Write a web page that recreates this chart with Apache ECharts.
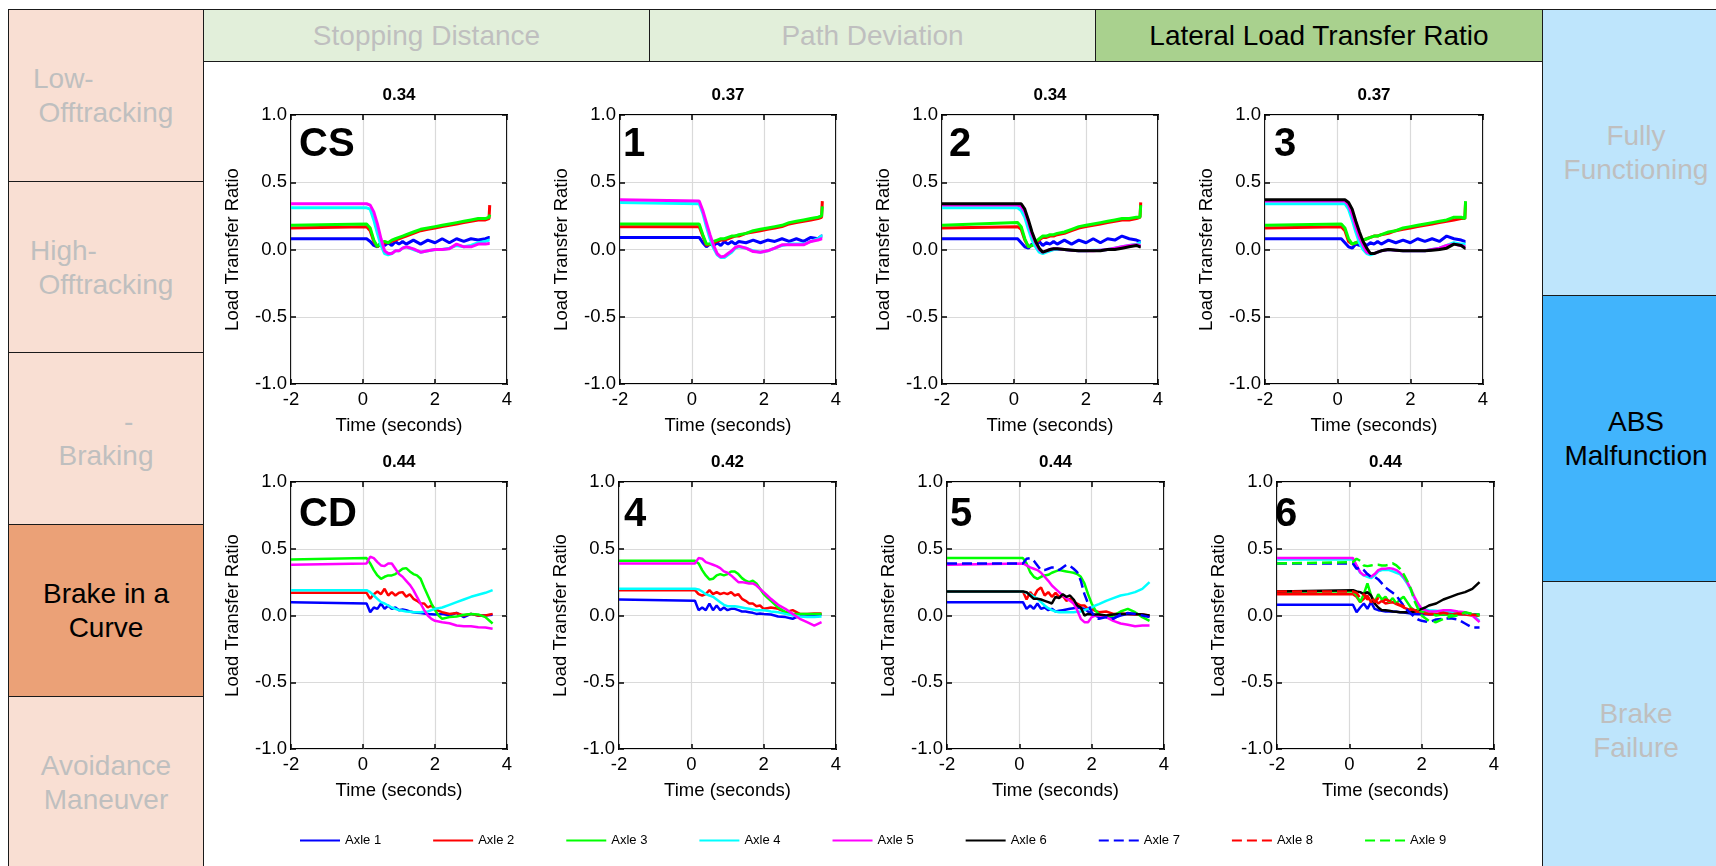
<!DOCTYPE html>
<html>
<head>
<meta charset="utf-8">
<script src="https://cdn.jsdelivr.net/npm/echarts@6/dist/echarts.min.js"></script>
<style>
  html, body { margin: 0; padding: 0; width: 1716px; height: 866px; overflow: hidden; background: #fff; font-family: "Liberation Sans", Arial, sans-serif; }
  .cell { position: absolute; box-sizing: border-box; border: 1.5px solid #1a1a1a; display: flex; flex-direction: column; justify-content: center; font-size: 28px; line-height: 34px; color: #BFBFBF; overflow: hidden; }
  .cell div { text-align: center; white-space: nowrap; }
  .cell.on { color: #000; }
  #chart { position: absolute; left: 0; top: 0; width: 1716px; height: 866px; }
</style>
</head>
<body>
<!-- left: maneuvers -->
<div class="cell" style="left:8px;top:9px;width:196px;height:173px;background:#F9DFD3"><div style="text-align:left;padding-left:24px">Low-</div><div>Offtracking</div></div>
<div class="cell" style="left:8px;top:181px;width:196px;height:173px;background:#F9DFD3"><div style="text-align:left;padding-left:21px">High-</div><div>Offtracking</div></div>
<div class="cell" style="left:8px;top:352px;width:196px;height:173px;background:#F9DFD3"><div style="text-align:left;padding-left:115px">-</div><div>Braking</div></div>
<div class="cell on" style="left:8px;top:524px;width:196px;height:173px;background:#EBA177"><div>Brake in a</div><div>Curve</div></div>
<div class="cell" style="left:8px;top:696px;width:196px;height:173px;background:#F9DFD3"><div>Avoidance</div><div>Maneuver</div></div>
<!-- top: measures -->
<div class="cell" style="left:203px;top:9px;width:447px;height:53px;background:#E2EFDA"><div>Stopping Distance</div></div>
<div class="cell" style="left:649px;top:9px;width:447px;height:53px;background:#E2EFDA"><div>Path Deviation</div></div>
<div class="cell on" style="left:1095px;top:9px;width:448px;height:53px;background:#A9D18E"><div>Lateral Load Transfer Ratio</div></div>
<!-- right: brake condition -->
<div class="cell" style="left:1542px;top:9px;width:188px;height:287px;background:#BEE5FC"><div>Fully</div><div>Functioning</div></div>
<div class="cell on" style="left:1542px;top:295px;width:188px;height:287px;background:#41B4FC"><div>ABS</div><div>Malfunction</div></div>
<div class="cell" style="left:1542px;top:581px;width:188px;height:300px;background:#BEE5FC"><div>Brake</div><div>Failure</div></div>

<div id="chart"></div>
<script>
// time samples (seconds)
const tRow1 = [-2, 0.1, 0.2, 0.3, 0.4, 0.5, 0.6, 0.7, 0.8, 0.9, 1.0, 1.1, 1.2, 1.4, 1.6, 1.8, 2.0, 2.2, 2.4, 2.6, 2.8, 3.0, 3.2, 3.4, 3.5, 3.52]
const t1 = [-2, 0.2, 0.3, 0.4, 0.5, 0.6, 0.7, 0.8, 0.9, 1.0, 1.1, 1.2, 1.3, 1.5, 1.7, 1.9, 2.1, 2.3, 2.5, 2.7, 2.9, 3.1, 3.3, 3.5, 3.6, 3.62]
const tRow2 = [-2, 0.1, 0.2, 0.3, 0.4, 0.5, 0.6, 0.7, 0.8, 0.9, 1.0, 1.1, 1.2, 1.3, 1.4, 1.5, 1.6, 1.7, 1.8, 1.9, 2.0, 2.1, 2.2, 2.4, 2.6, 2.8, 3.0, 3.2, 3.4, 3.6]

const axleNames = ['Axle 1', 'Axle 2', 'Axle 3', 'Axle 4', 'Axle 5', 'Axle 6', 'Axle 7', 'Axle 8', 'Axle 9']
const panelNames = ['CS', '1', '2', '3', 'CD', '4', '5', '6']
const peakLTR = ['0.34', '0.37', '0.34', '0.37', '0.44', '0.42', '0.44', '0.44']

// load transfer ratio per axle, one list per panel
const ltrCS = [
  [0.08, 0.08, 0.06, 0.03, 0.02, 0.05, 0.03, 0.05, 0.03, 0.06, 0.04, 0.06, 0.04, 0.07, 0.04, 0.07, 0.05, 0.08, 0.05, 0.08, 0.06, 0.08, 0.07, 0.08, 0.09, 0.09],
  [0.16, 0.17, 0.14, 0.06, 0.02, 0.04, 0.05, 0.05, 0.06, 0.07, 0.08, 0.09, 0.10, 0.12, 0.14, 0.15, 0.16, 0.17, 0.18, 0.19, 0.20, 0.21, 0.22, 0.22, 0.23, 0.33],
  [0.18, 0.19, 0.16, 0.07, 0.02, 0.05, 0.06, 0.05, 0.07, 0.08, 0.09, 0.10, 0.11, 0.13, 0.15, 0.16, 0.17, 0.18, 0.19, 0.20, 0.21, 0.22, 0.23, 0.23, 0.24, 0.26],
  [0.31, 0.31, 0.30, 0.22, 0.12, 0.03, -0.03, -0.04, -0.03, -0.01, -0.01, 0.01, 0.02, 0.0, -0.02, -0.01, 0.0, 0.0, 0.01, 0.03, 0.02, 0.03, 0.05, 0.06, 0.07, 0.07],
  [0.34, 0.34, 0.33, 0.28, 0.19, 0.08, -0.01, -0.03, -0.03, -0.01, -0.01, 0.01, 0.02, 0.005, -0.02, -0.01, 0.0, 0.0, 0.005, 0.04, 0.02, 0.02, 0.04, 0.04, 0.045, 0.045]
]
const ltr1 = [
  [0.09, 0.09, 0.05, 0.02, 0.04, 0.03, 0.05, 0.03, 0.06, 0.04, 0.06, 0.04, 0.06, 0.05, 0.07, 0.05, 0.07, 0.06, 0.08, 0.06, 0.08, 0.06, 0.09, 0.08, 0.10, 0.10],
  [0.17, 0.17, 0.10, 0.03, 0.04, 0.05, 0.06, 0.07, 0.07, 0.08, 0.09, 0.10, 0.10, 0.12, 0.13, 0.14, 0.15, 0.16, 0.17, 0.19, 0.20, 0.21, 0.22, 0.23, 0.24, 0.36],
  [0.19, 0.19, 0.11, 0.04, 0.04, 0.06, 0.07, 0.08, 0.08, 0.09, 0.10, 0.10, 0.11, 0.12, 0.14, 0.15, 0.16, 0.17, 0.18, 0.20, 0.21, 0.22, 0.23, 0.24, 0.25, 0.32],
  [0.35, 0.34, 0.27, 0.17, 0.08, 0.01, -0.04, -0.06, -0.06, -0.04, -0.02, 0.01, 0.02, 0.01, -0.01, -0.02, -0.01, 0.01, 0.03, 0.04, 0.04, 0.04, 0.06, 0.08, 0.10, 0.10],
  [0.37, 0.36, 0.29, 0.20, 0.11, 0.03, -0.03, -0.055, -0.05, -0.03, -0.01, 0.015, 0.025, 0.01, -0.015, -0.02, -0.01, 0.01, 0.035, 0.035, 0.035, 0.035, 0.06, 0.07, 0.08, 0.08]
]
const ltr2 = [
  [0.08, 0.08, 0.05, 0.02, 0.01, 0.04, 0.03, 0.06, 0.03, 0.05, 0.04, 0.06, 0.04, 0.07, 0.04, 0.07, 0.05, 0.08, 0.05, 0.08, 0.07, 0.10, 0.08, 0.07, 0.06, 0.06],
  [0.16, 0.17, 0.15, 0.07, 0.02, 0.03, 0.05, 0.07, 0.09, 0.09, 0.10, 0.10, 0.11, 0.12, 0.14, 0.16, 0.17, 0.18, 0.19, 0.20, 0.21, 0.22, 0.22, 0.23, 0.24, 0.35],
  [0.18, 0.20, 0.17, 0.08, 0.02, 0.03, 0.06, 0.08, 0.10, 0.10, 0.11, 0.11, 0.12, 0.13, 0.15, 0.17, 0.18, 0.19, 0.20, 0.21, 0.22, 0.23, 0.23, 0.24, 0.24, 0.33],
  [0.31, 0.31, 0.29, 0.24, 0.15, 0.07, 0.02, -0.02, -0.03, -0.02, -0.01, 0.0, 0.0, 0.0, -0.005, -0.01, -0.01, -0.005, -0.005, 0.0, 0.01, 0.02, 0.03, 0.04, 0.05, 0.05],
  [0.33, 0.33, 0.32, 0.28, 0.20, 0.11, 0.05, 0.0, -0.02, -0.01, 0.0, 0.005, 0.005, 0.0, -0.005, -0.01, -0.01, -0.01, -0.005, 0.0, 0.01, 0.02, 0.03, 0.035, 0.03, 0.03],
  [0.34, 0.34, 0.34, 0.30, 0.22, 0.13, 0.06, 0.01, -0.02, -0.01, 0.0, 0.005, 0.005, 0.0, -0.005, -0.01, -0.01, -0.01, -0.01, 0.0, 0.0, 0.01, 0.02, 0.03, 0.02, 0.02]
]
const ltr3 = [
  [0.08, 0.08, 0.05, 0.02, 0.01, 0.04, 0.03, 0.05, 0.03, 0.05, 0.04, 0.06, 0.04, 0.07, 0.05, 0.07, 0.05, 0.08, 0.06, 0.08, 0.06, 0.10, 0.08, 0.07, 0.06, 0.06],
  [0.16, 0.17, 0.14, 0.06, 0.04, 0.05, 0.06, 0.07, 0.08, 0.09, 0.10, 0.10, 0.11, 0.12, 0.14, 0.15, 0.16, 0.17, 0.18, 0.19, 0.20, 0.21, 0.22, 0.23, 0.23, 0.35],
  [0.18, 0.19, 0.16, 0.08, 0.04, 0.05, 0.06, 0.07, 0.08, 0.09, 0.10, 0.10, 0.11, 0.13, 0.14, 0.16, 0.17, 0.18, 0.19, 0.20, 0.21, 0.22, 0.24, 0.24, 0.23, 0.36],
  [0.34, 0.34, 0.34, 0.30, 0.22, 0.13, 0.05, 0.0, -0.03, -0.04, -0.03, -0.02, -0.01, 0.0, -0.005, -0.01, -0.01, -0.01, -0.01, 0.0, 0.01, 0.03, 0.05, 0.04, 0.04, 0.04],
  [0.36, 0.36, 0.36, 0.33, 0.26, 0.17, 0.09, 0.03, -0.02, -0.03, -0.03, -0.02, -0.01, 0.0, -0.005, -0.01, -0.01, -0.01, -0.01, 0.0, 0.01, 0.03, 0.04, 0.03, 0.02, 0.02],
  [0.37, 0.37, 0.37, 0.35, 0.30, 0.21, 0.13, 0.06, 0.01, -0.03, -0.03, -0.02, -0.01, 0.0, -0.005, -0.01, -0.01, -0.01, -0.01, -0.005, 0.0, 0.01, 0.04, 0.03, 0.01, 0.01]
]
const ltrCD = [
  [0.10, 0.09, 0.025, 0.06, 0.05, 0.09, 0.05, 0.075, 0.05, 0.06, 0.04, 0.045, 0.04, 0.03, 0.025, 0.02, 0.018, 0.015, 0.012, 0.01, 0.008, 0.01, 0.012, 0.0, 0.02, -0.012, 0.012, 0.0, 0.0, 0.005],
  [0.17, 0.17, 0.125, 0.16, 0.18, 0.16, 0.20, 0.15, 0.175, 0.15, 0.17, 0.175, 0.14, 0.16, 0.125, 0.11, 0.09, 0.09, 0.06, 0.075, 0.05, 0.035, 0.025, 0.012, 0.018, 0.0, 0.012, 0.0, 0.0, 0.012],
  [0.42, 0.43, 0.39, 0.34, 0.30, 0.275, 0.29, 0.30, 0.30, 0.31, 0.33, 0.35, 0.355, 0.33, 0.31, 0.30, 0.275, 0.21, 0.15, 0.09, 0.04, 0.0, -0.025, -0.012, -0.008, 0.005, 0.012, 0.008, -0.012, -0.06],
  [0.19, 0.19, 0.175, 0.15, 0.125, 0.10, 0.09, 0.075, 0.06, 0.05, 0.04, 0.035, 0.03, 0.028, 0.025, 0.025, 0.025, 0.028, 0.03, 0.04, 0.05, 0.055, 0.06, 0.08, 0.10, 0.12, 0.14, 0.155, 0.17, 0.19],
  [0.38, 0.39, 0.44, 0.43, 0.40, 0.375, 0.37, 0.39, 0.39, 0.35, 0.31, 0.29, 0.26, 0.23, 0.19, 0.14, 0.09, 0.04, 0.0, -0.025, -0.04, -0.045, -0.05, -0.058, -0.075, -0.08, -0.08, -0.088, -0.09, -0.10]
]
const ltr4 = [
  [0.12, 0.11, 0.04, 0.06, 0.04, 0.09, 0.04, 0.075, 0.04, 0.06, 0.04, 0.05, 0.05, 0.04, 0.03, 0.03, 0.025, 0.02, 0.012, 0.015, 0.012, 0.01, 0.008, -0.008, -0.012, -0.025, 0.0, 0.005, 0.008, 0.005],
  [0.19, 0.19, 0.16, 0.15, 0.16, 0.19, 0.16, 0.175, 0.16, 0.17, 0.16, 0.175, 0.15, 0.16, 0.125, 0.11, 0.09, 0.09, 0.07, 0.075, 0.05, 0.055, 0.06, 0.05, 0.025, 0.04, 0.012, 0.012, 0.015, 0.015],
  [0.41, 0.41, 0.39, 0.34, 0.30, 0.27, 0.275, 0.30, 0.31, 0.30, 0.31, 0.33, 0.33, 0.31, 0.28, 0.26, 0.25, 0.26, 0.24, 0.20, 0.16, 0.135, 0.11, 0.06, 0.025, 0.012, 0.012, 0.012, 0.012, 0.012],
  [0.20, 0.20, 0.195, 0.18, 0.16, 0.15, 0.14, 0.12, 0.10, 0.08, 0.07, 0.07, 0.07, 0.065, 0.06, 0.055, 0.05, 0.045, 0.04, 0.04, 0.04, 0.035, 0.03, 0.025, 0.012, 0.0, -0.008, -0.012, -0.012, -0.008],
  [0.39, 0.39, 0.43, 0.425, 0.40, 0.39, 0.38, 0.37, 0.355, 0.33, 0.32, 0.30, 0.275, 0.25, 0.25, 0.245, 0.24, 0.24, 0.225, 0.20, 0.175, 0.15, 0.125, 0.08, 0.05, 0.012, -0.025, -0.05, -0.075, -0.05]
]
const ltr5 = [
  [0.10, 0.10, 0.05, 0.075, 0.05, 0.09, 0.05, 0.06, 0.04, 0.05, 0.03, 0.035, 0.04, 0.045, 0.05, 0.055, 0.06, 0.055, 0.05, 0.03, 0.012, 0.0, -0.012, -0.012, -0.018, 0.0, 0.012, 0.012, 0.008, -0.008],
  [0.18, 0.18, 0.12, 0.175, 0.14, 0.19, 0.21, 0.15, 0.175, 0.14, 0.17, 0.14, 0.15, 0.11, 0.125, 0.09, 0.09, 0.075, 0.075, 0.05, 0.05, 0.035, 0.025, 0.03, 0.012, 0.015, 0.012, 0.008, 0.008, 0.0],
  [0.43, 0.43, 0.39, 0.325, 0.29, 0.275, 0.29, 0.30, 0.305, 0.32, 0.33, 0.34, 0.335, 0.33, 0.325, 0.32, 0.31, 0.29, 0.24, 0.16, 0.09, 0.04, 0.008, -0.012, 0.0, 0.03, 0.05, 0.025, -0.012, -0.04],
  [0.18, 0.18, 0.17, 0.16, 0.14, 0.125, 0.10, 0.075, 0.055, 0.04, 0.03, 0.025, 0.025, 0.025, 0.025, 0.025, 0.028, 0.03, 0.04, 0.05, 0.06, 0.075, 0.085, 0.11, 0.13, 0.15, 0.16, 0.175, 0.20, 0.25],
  [0.38, 0.39, 0.375, 0.36, 0.35, 0.34, 0.32, 0.29, 0.26, 0.225, 0.20, 0.175, 0.15, 0.13, 0.11, 0.09, 0.04, -0.025, -0.05, -0.05, -0.012, 0.0, 0.0, -0.012, -0.04, -0.06, -0.07, -0.08, -0.075, -0.075],
  [0.18, 0.18, 0.175, 0.15, 0.125, 0.125, 0.12, 0.11, 0.10, 0.09, 0.14, 0.13, 0.16, 0.14, 0.15, 0.12, 0.075, 0.06, 0.0, 0.012, 0.008, 0.008, 0.008, 0.0, 0.008, 0.012, 0.012, 0.012, 0.008, 0.0],
  [0.39, 0.39, 0.425, 0.43, 0.41, 0.375, 0.34, 0.34, 0.35, 0.36, 0.36, 0.34, 0.36, 0.38, 0.37, 0.35, 0.325, 0.26, 0.16, 0.09, 0.025, -0.012, -0.025, -0.012, -0.025, 0.008, 0.018, 0.012, 0.0, -0.012]
]
const ltr6 = [
  [0.08, 0.08, 0.025, 0.06, 0.09, 0.05, 0.10, 0.05, 0.04, 0.035, 0.03, 0.03, 0.03, 0.028, 0.025, 0.022, 0.018, 0.015, 0.012, 0.01, 0.012, 0.01, 0.008, 0.008, 0.006, 0.008, 0.01, 0.012, 0.01, 0.008],
  [0.16, 0.16, 0.14, 0.10, 0.125, 0.15, 0.10, 0.12, 0.09, 0.11, 0.09, 0.095, 0.10, 0.085, 0.075, 0.06, 0.05, 0.04, 0.03, 0.028, 0.025, 0.02, 0.018, 0.012, 0.018, 0.025, 0.012, 0.008, 0.0, 0.0],
  [0.18, 0.18, 0.15, 0.10, 0.16, 0.24, 0.15, 0.10, 0.16, 0.12, 0.14, 0.10, 0.13, 0.09, 0.12, 0.14, 0.10, 0.06, 0.04, 0.035, 0.03, 0.025, 0.02, 0.0, 0.01, 0.0, 0.01, 0.02, 0.01, 0.0],
  [0.42, 0.42, 0.37, 0.32, 0.30, 0.29, 0.28, 0.30, 0.33, 0.34, 0.34, 0.34, 0.33, 0.32, 0.31, 0.28, 0.24, 0.19, 0.13, 0.08, 0.05, 0.045, 0.04, 0.035, 0.03, 0.03, 0.025, 0.02, 0.005, -0.04],
  [0.43, 0.43, 0.375, 0.325, 0.30, 0.31, 0.29, 0.31, 0.34, 0.35, 0.35, 0.355, 0.35, 0.34, 0.32, 0.29, 0.25, 0.20, 0.14, 0.09, 0.05, 0.04, 0.03, 0.03, 0.04, 0.04, 0.03, 0.025, 0.0, -0.05],
  [0.18, 0.19, 0.18, 0.175, 0.16, 0.175, 0.15, 0.09, 0.06, 0.04, 0.04, 0.035, 0.03, 0.028, 0.025, 0.025, 0.025, 0.025, 0.03, 0.04, 0.05, 0.06, 0.075, 0.09, 0.12, 0.14, 0.16, 0.175, 0.20, 0.25],
  [0.39, 0.39, 0.35, 0.36, 0.34, 0.31, 0.29, 0.29, 0.27, 0.24, 0.21, 0.19, 0.17, 0.15, 0.11, 0.075, 0.04, 0.015, -0.012, -0.03, -0.04, -0.045, -0.05, -0.03, -0.025, -0.02, -0.03, -0.06, -0.09, -0.09],
  [0.18, 0.18, 0.17, 0.13, 0.16, 0.12, 0.14, 0.10, 0.13, 0.10, 0.12, 0.11, 0.10, 0.09, 0.08, 0.07, 0.06, 0.05, 0.04, 0.03, 0.02, 0.015, 0.01, 0.01, 0.02, 0.01, 0.015, 0.01, 0.005, 0.0],
  [0.39, 0.40, 0.425, 0.41, 0.375, 0.37, 0.375, 0.38, 0.38, 0.375, 0.375, 0.38, 0.39, 0.375, 0.35, 0.31, 0.26, 0.20, 0.11, 0.05, 0.0, -0.02, -0.04, -0.05, -0.025, -0.008, 0.0, 0.025, 0.012, 0.008]
]

const panelTimes = [tRow1, t1, tRow1, tRow1, tRow2, tRow2, tRow2, tRow2]
const panelData = [ltrCS, ltr1, ltr2, ltr3, ltrCD, ltr4, ltr5, ltr6]

// styling
const axleColors = ['#0000FF', '#FF0000', '#00FF00', '#00FFFF', '#FF00FF', '#000000', '#0000FF', '#FF0000', '#00FF00']
const font = '"Liberation Sans", Arial, sans-serif'
// [left, top, width, height] of each plot box
const boxes = [
  [291, 115, 216, 269], [620, 115, 216, 269], [942, 115, 216, 269], [1265, 115, 218, 269],
  [291, 482, 216, 267], [619, 482, 217, 267], [947, 482, 217, 267], [1277, 482, 217, 267]
]
const labelShift = [[8, 10], [3, 10], [7, 10], [9, 10], [8, 13], [5, 13], [3, 13], [-2, 13]]

const chart = echarts.init(document.getElementById('chart'))

const grid = [], xAxis = [], yAxis = [], series = [], graphic = []
const tick = { inside: true, length: 5, lineStyle: { color: '#000', width: 1.5 } }
const noLine = { show: false, onZero: false }

boxes.forEach((b, p) => {
  grid.push({ left: b[0], top: b[1], width: b[2], height: b[3], show: true, borderColor: '#000', borderWidth: 2 })
  xAxis.push({
    gridIndex: p, type: 'value', min: -2, max: 4, interval: 2,
    name: 'Time (seconds)', nameLocation: 'middle', nameGap: 32,
    nameTextStyle: { fontSize: 18.5, color: '#000', fontFamily: font },
    axisLine: noLine, axisTick: tick,
    axisLabel: { fontSize: 18.5, color: '#000', margin: 6, fontFamily: font },
    splitLine: { lineStyle: { color: '#DADADA', width: 1.2 } }
  })
  yAxis.push({
    gridIndex: p, type: 'value', min: -1, max: 1, interval: 0.5,
    name: 'Load Transfer Ratio', nameLocation: 'middle', nameGap: 49,
    nameTextStyle: { fontSize: 18.5, color: '#000', fontFamily: font },
    axisLine: noLine, axisTick: tick,
    axisLabel: { fontSize: 18.5, color: '#000', margin: 4, fontFamily: font, formatter: v => v.toFixed(1) },
    splitLine: { lineStyle: { color: '#DADADA', width: 1.2 } }
  })

  const t = panelTimes[p]
  panelData[p].forEach((vals, k) => {
    series.push({
      type: 'line', name: axleNames[k], xAxisIndex: p, yAxisIndex: p,
      data: t.map((x, i) => [x, vals[i]]),
      symbol: 'none', showSymbol: false,
      lineStyle: { color: axleColors[k], width: p < 4 ? 3 : 2.5, type: k >= 6 ? [10, 5] : 'solid' },
      itemStyle: { color: axleColors[k] }
    })
  })

  graphic.push({
    type: 'text', x: b[0] + b[2] / 2, y: b[1] - 20,
    style: { text: peakLTR[p], font: 'bold 17px ' + font, fill: '#000', align: 'center', verticalAlign: 'middle' }
  })
  graphic.push({
    type: 'text', x: b[0] + labelShift[p][0], y: b[1] + labelShift[p][1], z: 100,
    style: { text: panelNames[p], font: 'bold 40px ' + font, fill: '#000', align: 'left', verticalAlign: 'top' }
  })
})

// mirrored ticks on the top and right edges
boxes.forEach((b, p) => {
  xAxis.push({ gridIndex: p, type: 'value', position: 'top', min: -2, max: 4, interval: 2,
    axisLine: noLine, axisLabel: { show: false }, axisTick: tick, splitLine: { show: false } })
  yAxis.push({ gridIndex: p, type: 'value', position: 'right', min: -1, max: 1, interval: 0.5,
    axisLine: noLine, axisLabel: { show: false }, axisTick: tick, splitLine: { show: false } })
})

const option = {
  animation: false,
  textStyle: { fontFamily: font },
  grid, xAxis, yAxis, series, graphic,
  legend: {
    data: axleNames, left: 294, top: 829,
    itemWidth: 40, itemHeight: 8, itemGap: 51,
    itemStyle: { opacity: 0 },
    textStyle: { fontSize: 13, color: '#000', fontFamily: font }
  }
}

option && chart.setOption(option)
</script>
</body>
</html>
